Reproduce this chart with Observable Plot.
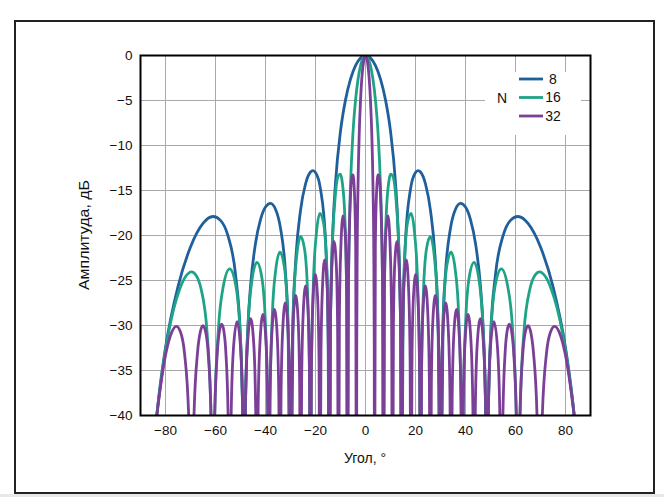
<!DOCTYPE html>
<html>
<head>
<meta charset="utf-8">
<script src="https://cdn.jsdelivr.net/npm/d3@7"></script>
<script src="https://cdn.jsdelivr.net/npm/@observablehq/plot@0.6"></script>
<style>
  html, body { margin: 0; padding: 0; background: #fff; }
  #wrap { position: relative; width: 664px; height: 497px; overflow: hidden; font-family: "Liberation Sans", Arial, sans-serif; }
  #wrap svg { position: absolute; left: 0; top: 0; }
  #border { position: absolute; left: 14px; top: 20px; width: 637px; height: 470px; border: 2px solid #222; pointer-events: none; }
  #band { position: absolute; left: 0; top: 494px; width: 664px; height: 3px; background: #e8e8e8; }
</style>
</head>
<body>
<div id="wrap"><div id="band"></div><div id="border"></div></div>
<script>
// Series (number of elements N), colours
const seriesNames = ["8", "16", "32"];
const seriesColors = ["#1f5f9b", "#1fa386", "#7b3f98"];

// Tick values
const xTicks = [-80, -60, -40, -20, 0, 20, 40, 60, 80];
const yTicks = [0, -5, -10, -15, -20, -25, -30, -35, -40];

// Angle (deg, right half of the symmetric pattern) and amplitude (dB)
const angle8 = [0,2,4,6,8,10,12,13,14,14.48, 15,16,18,20,21,22,24,26,28,29,30, 31,32,34,36,38,40,42,44,46,47,48,48.59, 49,50,52,55,58,61,65,70,75,80,83,85,90];
const db8 = [0,-0.28,-1.12,-2.62,-4.93,-8.41,-14.15,-19.03,-29.3,-60, -29.1,-20.5,-14.85,-13.01,-12.8,-12.95,-14.28,-17.23,-23.15,-29.3,-60, -29.8,-24.15,-19.18,-17.08,-16.43,-16.84,-18.24,-20.88,-25.68,-29.93,-38.6,-60, -42,-31.44,-24.33,-20.05,-18.32,-17.89,-18.66,-21.28,-25.68,-32.47,-38.7,-44.46,-60];

const angle16 = [0,1,2,3,4,5,6,6.5,7,7.181,
  7.542,8.265,9.352,10.079,10.807,12.269,13.371,14.108,14.478,
  14.848,15.590,16.709,18.210,19.725,20.870,21.638,22.024,
  22.411,23.186,24.361,25.944,27.549,28.769,29.587,30,
  30.414,31.249,32.515,34.229,35.97,37.32,38.225,38.682,
  39.135,40.071,41.481,43.433,45.436,46.987,48.056,48.590,
  49.14,50.241,51.952,54.340,56.878,58.907,60.32,61.045,
  61.79,63.349,65.853,67.668,69.636,71.805,74.259,78.887,83.59,90];
const db16 = [0,-0.28,-1.14,-2.66,-5.01,-8.56,-14.52,-19.71,-31.76,-60,
  -26.42,-17.94,-13.97,-13.19,-13.34,-16.23,-21.95,-31.64,-60,
  -32.05,-23.19,-18.72,-17.55,-20.00,-25.44,-34.96,-60,
  -35.21,-26.21,-21.54,-20.13,-22.37,-27.67,-37.10,-60,
  -37.26,-28.18,-23.39,-21.85,-23.96,-29.16,-38.53,-60,
  -38.64,-29.50,-24.64,-22.99,-25.00,-30.15,-39.47,-60,
  -39.54,-30.36,-25.43,-23.70,-25.64,-30.72,-40.01,-60,
  -40.04,-30.82,-25.84,-24.46,-24.04,-24.50,-25.91,-30.94,-40.19,-60];

const angle32 = [0,0.5,1,1.5,2,2.5,3,3.3,3.5,3.583,
  3.942,4.481,5.020,5.380,6.280,6.820,7.181,
  7.542,8.084,8.990,9.897,10.443,10.807,
  11.172,11.720,12.636,13.555,14.108,14.478,
  14.848,15.405,16.335,17.270,17.834,18.210,
  18.587,19.155,20.106,21.062,21.638,22.024,
  22.411,22.993,23.970,24.953,25.546,25.944,
  26.343,26.946,27.953,28.973,29.587,30,
  30.414,31.037,32.090,33.153,33.797,34.229,
  34.665,35.325,36.423,37.547,38.225,38.682,
  39.135,39.845,41.011,42.211,42.95,43.433,
  43.93,44.677,45.951,47.254,48.056,48.590,
  49.14,49.96,51.378,52.845,53.73,54.340,
  54.962,55.90,56.717,57.520,58.385,59.25,60.32,61.045,
  61.79,62.955,63.953,65.019,66.078,67.20,68.63,69.636,
  70.69,72.39,73.93,75.633,77.57,79.86,83.59,90];
const db32 = [0,-0.28,-1.14,-2.65,-5.03,-8.61,-14.62,-21.42,-32.47,-60,
  -20.95,-14.87,-13.27,-13.43,-17.77,-25.67,-60,
  -26.53,-19.93,-17.81,-21.63,-29.27,-60,
  -29.84,-23.04,-20.65,-24.24,-31.75,-60,
  -32.16,-25.27,-22.72,-26.17,-33.61,-60,
  -33.93,-26.97,-24.32,-27.68,-35.07,-60,
  -35.32,-28.32,-25.60,-28.89,-36.24,-60,
  -36.45,-29.42,-26.65,-29.88,-37.21,-60,
  -37.38,-30.31,-27.50,-30.70,-38.00,-60,
  -38.14,-31.05,-28.20,-31.36,-38.64,-60,
  -38.75,-31.65,-28.77,-31.90,-39.16,-60,
  -39.25,-32.13,-29.23,-32.33,-39.58,-60,
  -39.65,-32.51,-29.58,-32.66,-39.89,-60,
  -39.95,-32.79,-30.50,-29.84,-30.56,-32.90,-40.12,-60,
  -40.15,-32.98,-30.68,-30.01,-30.71,-33.05,-40.25,-60,
  -40.27,-33.09,-30.78,-30.09,-30.79,-33.11,-40.30,-60];

// Build the full symmetric table (pattern mirrored about 0°)
function buildRows(name, angles, dbs) {
  const rows = [];
  for (let i = angles.length - 1; i > 0; i--) rows.push({n: name, angle: -angles[i], db: dbs[i]});
  for (let i = 0; i < angles.length; i++) rows.push({n: name, angle: angles[i], db: dbs[i]});
  return rows;
}
const rows = [
  ...buildRows("8", angle8, db8),
  ...buildRows("16", angle16, db16),
  ...buildRows("32", angle32, db32)
];

const fmt = d => (d < 0 ? "\u2212" + Math.abs(d) : String(d));

const chart = Plot.plot({
  width: 664,
  height: 497,
  marginLeft: 140,
  marginRight: 74,
  marginTop: 55,
  marginBottom: 82,
  style: {fontFamily: "'Liberation Sans', Arial, sans-serif", fontSize: "13.5px", color: "#111", background: "transparent", overflow: "visible"},
  x: {domain: [-90, 90], ticks: xTicks, tickSize: 0, tickPadding: 10, tickFormat: fmt, label: null},
  y: {domain: [-40, 0], ticks: yTicks, tickSize: 0, tickPadding: 8, tickFormat: fmt, label: null},
  color: {domain: seriesNames, range: seriesColors},
  marks: [
    Plot.gridX(xTicks, {stroke: "#a9a9a9", strokeOpacity: 1, strokeWidth: 1}),
    Plot.gridY(yTicks, {stroke: "#a9a9a9", strokeOpacity: 1, strokeWidth: 1}),
    Plot.line(rows, {x: "angle", y: "db", z: "n", stroke: "n", strokeWidth: 2.8, curve: "monotone-x", clip: true}),
    Plot.frame({stroke: "#000", strokeWidth: 2})
  ]
});
document.getElementById("wrap").prepend(chart);

const svg = d3.select(chart);
// Axis titles
svg.append("text")
  .attr("transform", "translate(89,235) rotate(-90)")
  .attr("text-anchor", "middle")
  .attr("font-size", 14)
  .attr("textLength", 110)
  .attr("lengthAdjust", "spacingAndGlyphs")
  .attr("fill", "#111")
  .text("Амплитуда, дБ");
svg.append("text")
  .attr("x", 365).attr("y", 463)
  .attr("text-anchor", "middle")
  .attr("font-size", 14)
  .attr("fill", "#111")
  .text("Угол, °");

// Legend
const lg = svg.append("g");
lg.append("rect").attr("x", 485).attr("y", 72).attr("width", 96).attr("height", 63).attr("fill", "#fff");
lg.append("text").attr("x", 502).attr("y", 98).attr("dy", "0.35em").attr("text-anchor", "middle").attr("font-size", 14).attr("fill", "#111").text("N");
seriesNames.forEach((s, i) => {
  const y = 79 + i * 18.5;
  lg.append("line").attr("x1", 519).attr("x2", 543).attr("y1", y).attr("y2", y).attr("stroke", seriesColors[i]).attr("stroke-width", 2.8);
  lg.append("text").attr("x", 553).attr("y", y).attr("dy", "0.35em").attr("font-size", 14).attr("fill", "#111").text(s);
});
</script>
</body>
</html>
